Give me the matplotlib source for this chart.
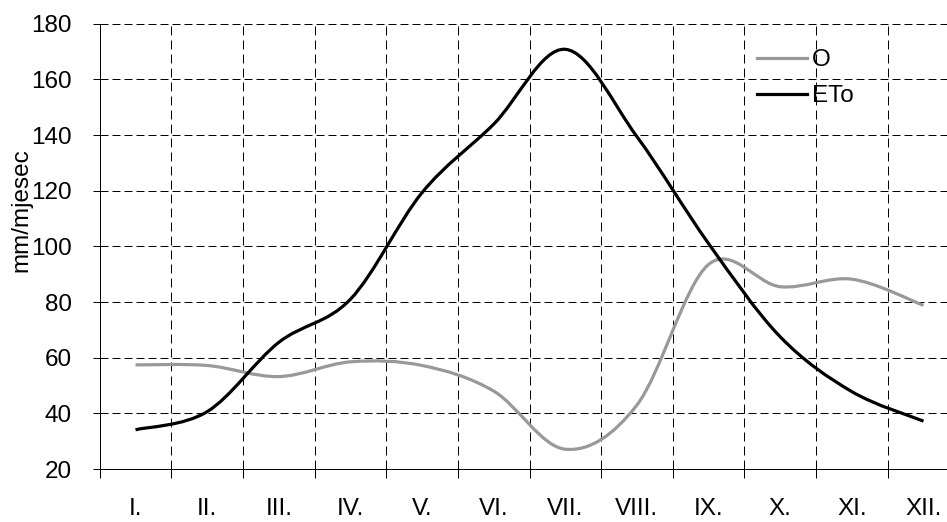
import numpy as np
import matplotlib
matplotlib.use('Agg')
import matplotlib.pyplot as plt
from matplotlib.path import Path
from matplotlib.patches import PathPatch
from matplotlib.lines import Line2D

months = ['I.', 'II.', 'III.', 'IV.', 'V.', 'VI.', 'VII.', 'VIII.', 'IX.', 'X.', 'XI.', 'XII.']
o_vals = [57.4, 57.2, 53.2, 58.5, 57.2, 48.0, 27.1, 43.0, 93.5, 85.5, 88.2, 78.8]
eto_vals = [34.1, 40.6, 65.5, 81.0, 119.3, 143.9, 170.8, 139.4, 101.0, 67.5, 47.8, 37.2]
series_names = ['O', 'ETo']
series_colors = ['#999999', '#000000']

plt.rcParams['font.family'] = ['Liberation Sans', 'DejaVu Sans']
FS = 17.5


def smooth_path(vals):
    # excel-like smoothed line: cubic bezier through every point
    pts = np.column_stack([np.arange(len(vals)), np.asarray(vals, float)])
    ext = np.vstack([pts[0], pts, pts[-1]])
    verts = [pts[0]]
    codes = [Path.MOVETO]
    for i in range(len(pts) - 1):
        p0, p1, p2, p3 = ext[i], ext[i + 1], ext[i + 2], ext[i + 3]
        verts += [p1 + (p2 - p0) / 6, p2 - (p3 - p1) / 6, p2]
        codes += [Path.CURVE4] * 3
    return Path(verts, codes)


W, H = 947, 522
fig = plt.figure(figsize=(W / 100, H / 100), dpi=100)
ax = fig.add_axes([99.7 / W, 1 - 469 / H, 859.6 / W, 445.3 / H])

ax.set_xlim(-0.5, 11.5)
ax.set_ylim(20, 180)

for vals, col in zip([o_vals, eto_vals], series_colors):
    ax.add_patch(PathPatch(smooth_path(vals), fill=False, edgecolor=col,
                           lw=2.3, capstyle='butt', joinstyle='round', zorder=3))

# x: ticks at category boundaries, labels at centres
ax.set_xticks(np.arange(-0.5, 12, 1))
ax.set_xticklabels([])
ax.set_xticks(np.arange(len(months)), minor=True)
ax.set_xticklabels(months, minor=True, fontsize=FS)
ax.tick_params(axis='x', which='major', direction='out', length=6.5, width=0.72)
ax.tick_params(axis='x', which='minor', length=0, pad=21)

ax.set_yticks(np.arange(20, 181, 20))
ax.tick_params(axis='y', direction='inout', length=10, width=0.72, pad=15, labelsize=FS)

ax.grid(axis='y', color='black', lw=0.72, linestyle=(0, (8, 4)))
ax.grid(axis='x', which='major', color='black', lw=0.72, linestyle=(0, (9, 5)))
ax.set_axisbelow(True)

for s in ['top', 'right']:
    ax.spines[s].set_visible(False)
for s in ['left', 'bottom']:
    ax.spines[s].set_linewidth(0.72)

fig.text(21.7 / W, 1 - 210 / H, 'mm/mjesec', rotation=90, ha='center', va='center', fontsize=FS)

handles = [Line2D([], [], color=c, lw=2.3) for c in series_colors]
fig.legend(handles, series_names, loc='upper left', bbox_to_anchor=(757 / W, 1 - 49 / H),
           bbox_transform=fig.transFigure, frameon=False, borderpad=0, borderaxespad=0,
           handlelength=2.05, handletextpad=0.2, labelspacing=0.58, fontsize=FS)

fig.savefig('out.png', dpi=100)
